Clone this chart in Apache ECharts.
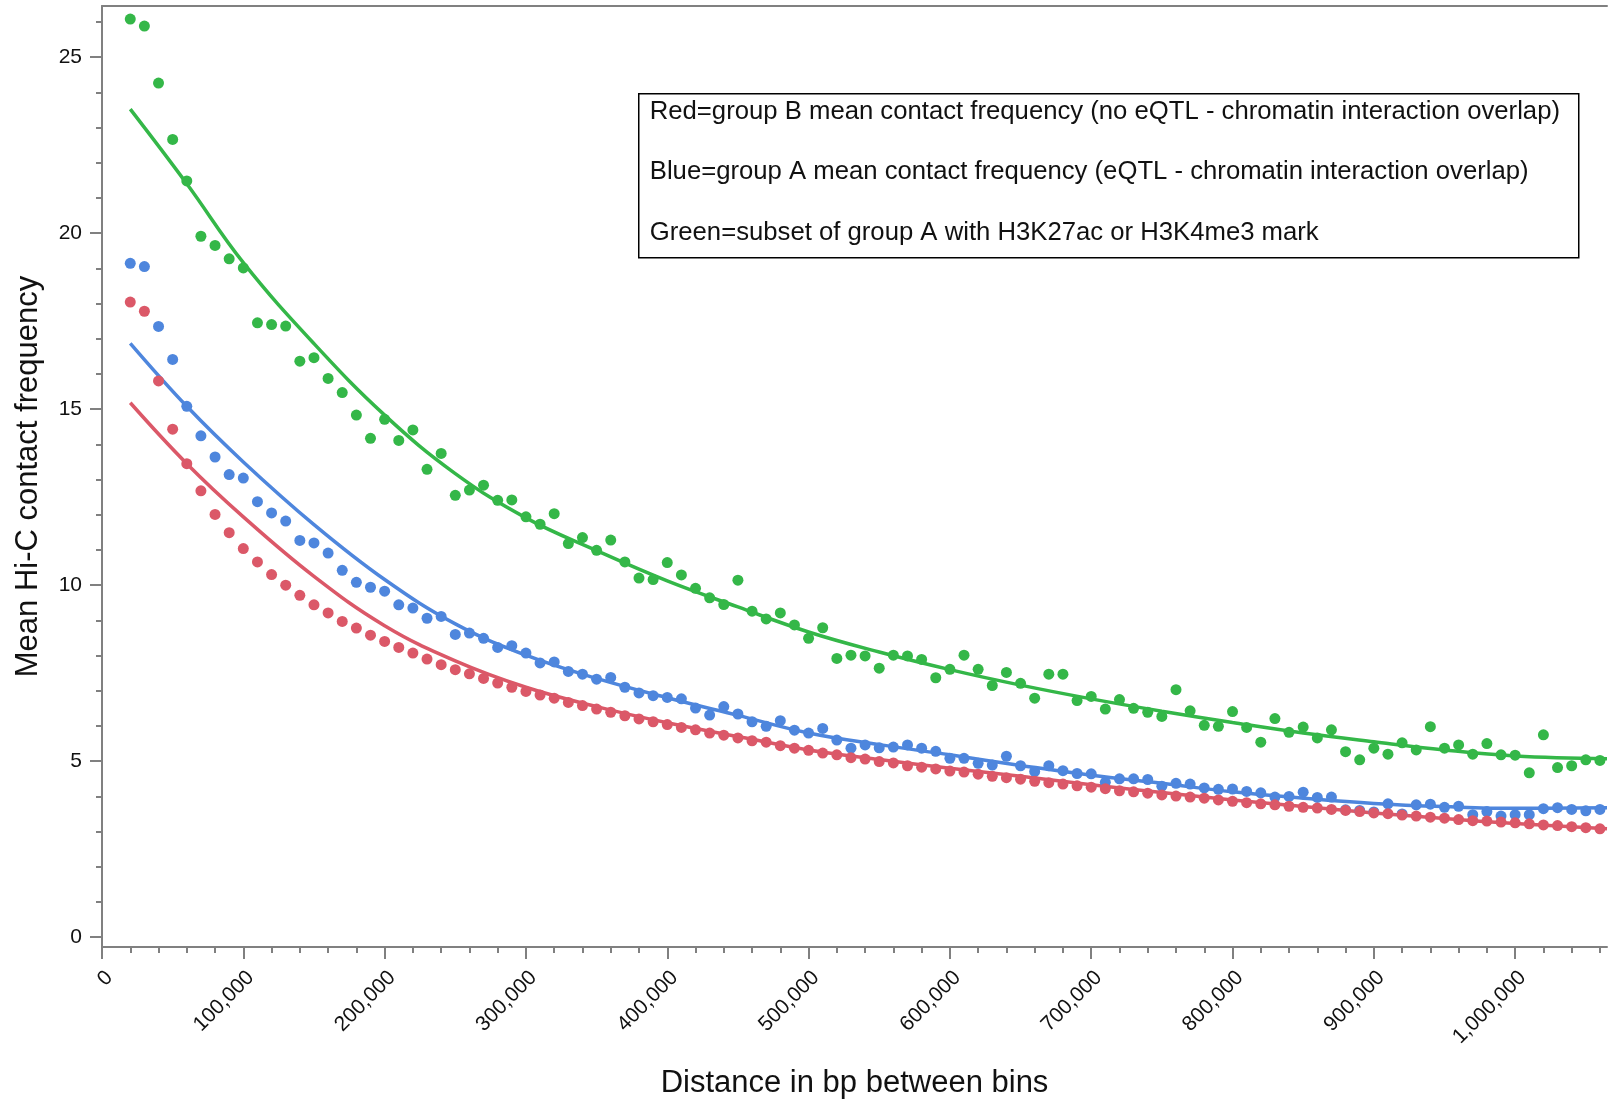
<!DOCTYPE html>
<html>
<head>
<meta charset="utf-8">
<script src="https://cdn.jsdelivr.net/npm/echarts@6/dist/echarts.min.js"></script>
<style>
html,body{margin:0;padding:0;background:#fff;}
#chart{width:1610px;height:1104px;}
</style>
</head>
<body>
<div id="chart"></div>
<script>
// Distance (bp) of each bin: 20,000 ... 1,060,000 (step 10,000)
const distances = [20000,30000,40000,50000,60000,70000,80000,90000,100000,110000,120000,130000,140000,150000,160000,170000,180000,190000,200000,210000,220000,230000,240000,250000,260000,270000,280000,290000,300000,310000,320000,330000,340000,350000,360000,370000,380000,390000,400000,410000,420000,430000,440000,450000,460000,470000,480000,490000,500000,510000,520000,530000,540000,550000,560000,570000,580000,590000,600000,610000,620000,630000,640000,650000,660000,670000,680000,690000,700000,710000,720000,730000,740000,750000,760000,770000,780000,790000,800000,810000,820000,830000,840000,850000,860000,870000,880000,890000,900000,910000,920000,930000,940000,950000,960000,970000,980000,990000,1000000,1010000,1020000,1030000,1040000,1050000,1060000];

const greenValues = [26.08,25.88,24.26,22.66,21.48,19.91,19.65,19.27,19.01,17.45,17.40,17.36,16.36,16.46,15.87,15.47,14.83,14.17,14.71,14.11,14.41,13.29,13.74,12.55,12.70,12.84,12.41,12.42,11.94,11.73,12.03,11.18,11.35,10.99,11.28,10.66,10.20,10.16,10.64,10.29,9.91,9.64,9.45,10.14,9.26,9.04,9.21,8.87,8.49,8.79,7.92,8.01,7.99,7.64,8.01,7.99,7.89,7.37,7.61,8.01,7.61,7.15,7.52,7.21,6.79,7.47,7.47,6.72,6.84,6.48,6.75,6.50,6.39,6.27,7.03,6.43,6.02,5.99,6.41,5.96,5.54,6.21,5.82,5.97,5.66,5.89,5.27,5.04,5.37,5.20,5.52,5.32,5.98,5.37,5.46,5.20,5.50,5.18,5.17,4.67,5.75,4.82,4.87,5.04,5.02];

const blueValues = [19.14,19.05,17.35,16.41,15.08,14.24,13.64,13.14,13.04,12.37,12.05,11.82,11.27,11.20,10.91,10.42,10.08,9.94,9.83,9.44,9.35,9.06,9.11,8.60,8.64,8.49,8.23,8.28,8.07,7.79,7.82,7.55,7.47,7.33,7.38,7.10,6.94,6.86,6.81,6.77,6.51,6.31,6.55,6.34,6.12,5.99,6.15,5.88,5.80,5.93,5.60,5.37,5.46,5.38,5.40,5.46,5.37,5.28,5.08,5.08,4.94,4.89,5.14,4.87,4.71,4.87,4.73,4.65,4.64,4.40,4.50,4.50,4.48,4.29,4.37,4.35,4.24,4.20,4.21,4.14,4.10,3.98,4.00,4.12,3.97,3.98,3.62,3.60,3.56,3.79,3.50,3.76,3.78,3.69,3.72,3.48,3.57,3.44,3.48,3.48,3.65,3.68,3.63,3.59,3.63];

const redValues = [18.04,17.78,15.80,14.43,13.45,12.68,12.01,11.49,11.04,10.66,10.30,10.00,9.71,9.44,9.21,8.97,8.78,8.58,8.40,8.23,8.07,7.90,7.74,7.60,7.48,7.35,7.22,7.10,6.98,6.88,6.79,6.67,6.58,6.48,6.39,6.29,6.20,6.12,6.04,5.96,5.89,5.80,5.74,5.66,5.58,5.54,5.44,5.37,5.31,5.23,5.18,5.10,5.06,4.99,4.95,4.87,4.83,4.78,4.72,4.69,4.63,4.57,4.53,4.49,4.43,4.39,4.35,4.30,4.26,4.22,4.16,4.13,4.09,4.04,4.01,3.98,3.95,3.90,3.86,3.82,3.79,3.76,3.72,3.69,3.67,3.63,3.60,3.57,3.53,3.51,3.47,3.44,3.41,3.38,3.34,3.31,3.30,3.27,3.25,3.22,3.19,3.17,3.14,3.11,3.08];

// Fitted trend curves at these distances
const fitDistances = [20000,60000,100000,150000,200000,250000,300000,350000,400000,450000,500000,550000,600000,650000,700000,750000,800000,850000,900000,950000,1000000,1065000];
const greenFit = [23.52,21.40,19.16,16.86,14.83,13.17,11.91,10.98,10.12,9.38,8.67,8.10,7.60,7.16,6.77,6.42,6.10,5.80,5.55,5.32,5.15,5.07];
const blueFit  = [16.87,15.08,13.50,11.72,10.16,8.90,8.01,7.35,6.80,6.30,5.80,5.47,5.18,4.88,4.60,4.37,4.13,3.95,3.80,3.71,3.66,3.68];
const redFit   = [15.18,13.45,11.94,10.25,8.85,7.85,7.10,6.55,6.09,5.70,5.32,5.05,4.80,4.57,4.33,4.11,3.90,3.71,3.53,3.37,3.23,3.08];

const xMajorTicks = [0,100000,200000,300000,400000,500000,600000,700000,800000,900000,1000000];
const xMinorTicks = [20000,40000,60000,80000,120000,140000,160000,180000,220000,240000,260000,280000,320000,340000,360000,380000,420000,440000,460000,480000,520000,540000,560000,580000,620000,640000,660000,680000,720000,740000,760000,780000,820000,840000,860000,880000,920000,940000,960000,980000,1020000,1040000,1060000];
const yMajorTicks = [0,5,10,15,20,25];
const yMinorTicks = [1,2,3,4,6,7,8,9,11,12,13,14,16,17,18,19,21,22,23,24,26];

const legendLines = [
  'Red=group B mean contact frequency (no eQTL - chromatin interaction overlap)',
  'Blue=group A mean contact frequency (eQTL - chromatin interaction overlap)',
  'Green=subset of group A with H3K27ac or H3K4me3 mark'
];

const GREEN = '#34B748', BLUE = '#4E86DD', RED = '#DB5868';
const AXIS = '#808080';
const FONT = 'Liberation Sans, Arial, Helvetica, sans-serif';

function pairs(xs, ys){ return xs.map((x,i)=>[x, ys[i]]); }
function fmt(v){ return String(v).replace(/\B(?=(\d{3})+(?!\d))/g, ','); }

const chart = echarts.init(document.getElementById('chart'), null, {renderer:'canvas'});

const X_MIN = 0, X_MAX = 1065000, Y_MIN = -0.278, Y_MAX = 26.45;

const option = {
  animation: false,
  backgroundColor: '#fff',
  grid: {left: 102, top: 6, right: 3, bottom: 156, containLabel: false},
  xAxis: [
    {
      type: 'value', position: 'bottom', min: X_MIN, max: X_MAX,
      axisLine: {show: true, onZero: false, lineStyle: {color: AXIS, width: 2}},
      axisTick: {show: true, length: 12, customValues: xMajorTicks, lineStyle: {color: AXIS, width: 2}},
      axisLabel: {show: true, customValues: xMajorTicks, rotate: 45, margin: 20,
        verticalAlign: 'top', align: 'right',
        fontFamily: FONT, fontSize: 21, color: '#111', formatter: v => fmt(v)},
      splitLine: {show: false},
      name: 'Distance in bp between bins', nameLocation: 'middle', nameGap: 121,
      nameTextStyle: {fontFamily: FONT, fontSize: 31, color: '#111'}
    },
    {
      type: 'value', position: 'bottom', min: X_MIN, max: X_MAX,
      axisLine: {show: false, onZero: false},
      axisTick: {show: true, length: 6, customValues: xMinorTicks, lineStyle: {color: AXIS, width: 2}},
      axisLabel: {show: false}, splitLine: {show: false}
    },
    {
      type: 'value', position: 'top', min: X_MIN, max: X_MAX,
      axisLine: {show: true, onZero: false, lineStyle: {color: AXIS, width: 2}},
      axisTick: {show: false}, axisLabel: {show: false}, splitLine: {show: false}
    }
  ],
  yAxis: [
    {
      type: 'value', position: 'left', min: Y_MIN, max: Y_MAX,
      axisLine: {show: true, onZero: false, lineStyle: {color: AXIS, width: 2}},
      axisTick: {show: true, length: 12, customValues: yMajorTicks, lineStyle: {color: AXIS, width: 2}},
      axisLabel: {show: true, customValues: yMajorTicks, margin: 20,
        fontFamily: FONT, fontSize: 21, color: '#111'},
      splitLine: {show: false},
      name: 'Mean Hi-C contact frequency', nameLocation: 'middle', nameGap: 58, nameRotate: 90,
      nameTextStyle: {fontFamily: FONT, fontSize: 31, color: '#111'}
    },
    {
      type: 'value', position: 'left', min: Y_MIN, max: Y_MAX,
      axisLine: {show: false, onZero: false},
      axisTick: {show: true, length: 6, customValues: yMinorTicks, lineStyle: {color: AXIS, width: 2}},
      axisLabel: {show: false}, splitLine: {show: false}
    }
  ],
  series: [
    {name:'Green fit', type:'line', data: pairs(fitDistances, greenFit), smooth: 0.4, showSymbol:false,
      lineStyle:{color: GREEN, width: 3.5}, itemStyle:{color: GREEN}, z: 2},
    {name:'Blue fit', type:'line', data: pairs(fitDistances, blueFit), smooth: 0.4, showSymbol:false,
      lineStyle:{color: BLUE, width: 3.5}, itemStyle:{color: BLUE}, z: 2},
    {name:'Red fit', type:'line', data: pairs(fitDistances, redFit), smooth: 0.4, showSymbol:false,
      lineStyle:{color: RED, width: 3.5}, itemStyle:{color: RED}, z: 2},
    {name:'Green', type:'scatter', data: pairs(distances, greenValues), symbolSize: 11,
      itemStyle:{color: GREEN, opacity: 1}, z: 3},
    {name:'Blue', type:'scatter', data: pairs(distances, blueValues), symbolSize: 11,
      itemStyle:{color: BLUE, opacity: 1}, z: 4},
    {name:'Red', type:'scatter', data: pairs(distances, redValues), symbolSize: 11,
      itemStyle:{color: RED, opacity: 1}, z: 5}
  ],
  graphic: [
    {
      type: 'group', left: 638, top: 93,
      children: [
        {type:'rect', shape:{x:0, y:0, width:940, height:164}, style:{fill:'#fff', stroke:'#000', lineWidth:1.5}},
        {type:'text', x: 11, y: 18, style:{text: legendLines[0], font: '25.7px ' + FONT, fill:'#111', verticalAlign:'middle'}},
        {type:'text', x: 11, y: 78, style:{text: legendLines[1], font: '25.7px ' + FONT, fill:'#111', verticalAlign:'middle'}},
        {type:'text', x: 11, y: 139, style:{text: legendLines[2], font: '25.7px ' + FONT, fill:'#111', verticalAlign:'middle'}}
      ]
    }
  ]
};
chart.setOption(option);
</script>
</body>
</html>
